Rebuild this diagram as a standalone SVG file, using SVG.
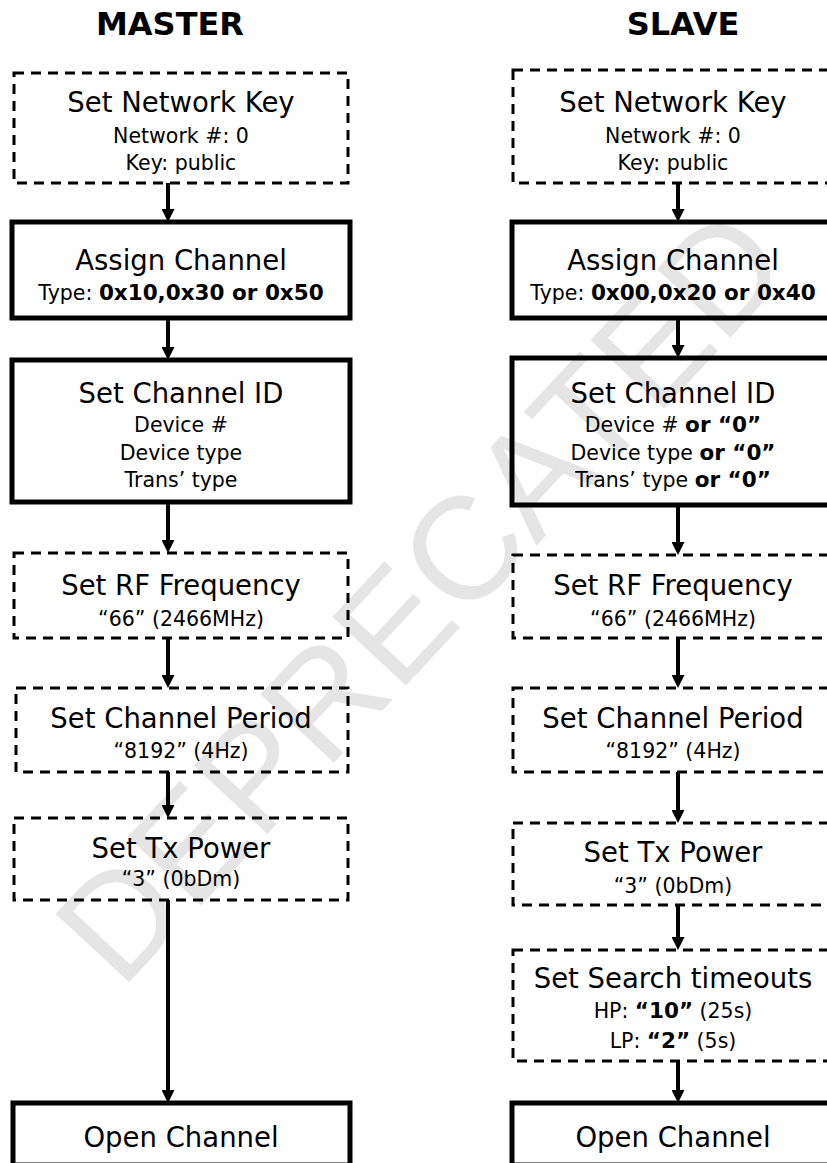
<svg xmlns="http://www.w3.org/2000/svg" width="827" height="1163" viewBox="0 0 827 1163">
<style>
.bg{fill:#ffffff}
.wm{font-family:"Liberation Sans","DejaVu Sans",sans-serif;font-size:146px;fill:#e5e5e5}
.hd{font-family:"DejaVu Sans",sans-serif;font-weight:bold;font-size:32px;fill:#000;text-anchor:middle}
.t{font-family:"DejaVu Sans",sans-serif;font-size:27.5px;fill:#000;text-anchor:middle}
.s{font-family:"DejaVu Sans",sans-serif;font-size:20.5px;fill:#000;text-anchor:middle}
.b{font-weight:bold;font-size:21.5px}
.dash{fill:none;stroke:#000;stroke-width:3;stroke-dasharray:10 7}
.solid{fill:none;stroke:#000;stroke-width:5}
.conn{fill:none;stroke:#000;stroke-width:4;marker-end:url(#ah)}
</style>
<defs>
<marker id="ah" viewBox="0 0 13 13" refX="0" refY="6.5" markerWidth="13" markerHeight="13" markerUnits="userSpaceOnUse" orient="auto">
<path d="M0,0 L13,6.5 L0,13 z" fill="#000"/>
</marker>
</defs>
<rect class="bg" x="0" y="0" width="827" height="1163"/>
<text class="wm" transform="translate(121,991) rotate(-47)">DEPRECATED</text>

<text class="hd" x="170" y="35">MASTER</text>
<text class="hd" x="683" y="35">SLAVE</text>

<g id="connectors">
<line class="conn" x1="168" y1="183" x2="168" y2="209"/>
<line class="conn" x1="168" y1="318" x2="168" y2="347"/>
<line class="conn" x1="168" y1="502" x2="168" y2="540"/>
<line class="conn" x1="168" y1="638" x2="168" y2="675"/>
<line class="conn" x1="168" y1="772" x2="168" y2="805"/>
<line class="conn" x1="168" y1="900" x2="168" y2="1090"/>
<line class="conn" x1="678" y1="183" x2="678" y2="209"/>
<line class="conn" x1="678" y1="318" x2="678" y2="345"/>
<line class="conn" x1="678" y1="505" x2="678" y2="542"/>
<line class="conn" x1="678" y1="638" x2="678" y2="675"/>
<line class="conn" x1="678" y1="772" x2="678" y2="810"/>
<line class="conn" x1="678" y1="905" x2="678" y2="937"/>
<line class="conn" x1="678" y1="1061" x2="678" y2="1090"/>
</g>

<g id="m_netkey">
<rect class="dash" x="14" y="73" width="334" height="110"/>
<text class="t" x="181" y="112">Set Network Key</text>
<text class="s" x="181" y="143">Network #: 0</text>
<text class="s" x="181" y="170">Key: public</text>
</g>
<g id="m_assign">
<rect class="solid" x="12" y="222" width="338" height="96"/>
<text class="t" x="181" y="270">Assign Channel</text>
<text class="s" x="181" y="300">Type: <tspan class="b">0x10,0x30 or 0x50</tspan></text>
</g>
<g id="m_chanid">
<rect class="solid" x="12" y="360" width="338" height="142"/>
<text class="t" x="181" y="403">Set Channel ID</text>
<text class="s" x="181" y="432">Device #</text>
<text class="s" x="181" y="460">Device type</text>
<text class="s" x="181" y="487">Trans’ type</text>
</g>
<g id="m_rf">
<rect class="dash" x="14" y="553" width="334" height="85"/>
<text class="t" x="181" y="595">Set RF Frequency</text>
<text class="s" x="181" y="626">“66” (2466MHz)</text>
</g>
<g id="m_period">
<rect class="dash" x="16" y="688" width="332" height="84"/>
<text class="t" x="181" y="728">Set Channel Period</text>
<text class="s" x="181" y="758">“8192” (4Hz)</text>
</g>
<g id="m_txpower">
<rect class="dash" x="14" y="818" width="334" height="82"/>
<text class="t" x="181" y="858">Set Tx Power</text>
<text class="s" x="181" y="886">“3” (0bDm)</text>
</g>
<g id="m_open">
<rect class="solid" x="13" y="1103" width="337" height="62"/>
<text class="t" x="181" y="1147">Open Channel</text>
</g>

<g id="s_netkey">
<rect class="dash" x="513" y="70" width="334" height="113"/>
<text class="t" x="673" y="112">Set Network Key</text>
<text class="s" x="673" y="143">Network #: 0</text>
<text class="s" x="673" y="170">Key: public</text>
</g>
<g id="s_assign">
<rect class="solid" x="512" y="222" width="338" height="96"/>
<text class="t" x="673" y="270">Assign Channel</text>
<text class="s" x="673" y="300">Type: <tspan class="b">0x00,0x20 or 0x40</tspan></text>
</g>
<g id="s_chanid">
<rect class="solid" x="512" y="358" width="338" height="147"/>
<text class="t" x="673" y="403">Set Channel ID</text>
<text class="s" x="673" y="432">Device # <tspan class="b">or “0”</tspan></text>
<text class="s" x="673" y="460">Device type <tspan class="b">or “0”</tspan></text>
<text class="s" x="673" y="487">Trans’ type <tspan class="b">or “0”</tspan></text>
</g>
<g id="s_rf">
<rect class="dash" x="513" y="555" width="334" height="83"/>
<text class="t" x="673" y="595">Set RF Frequency</text>
<text class="s" x="673" y="626">“66” (2466MHz)</text>
</g>
<g id="s_period">
<rect class="dash" x="513" y="688" width="334" height="84"/>
<text class="t" x="673" y="728">Set Channel Period</text>
<text class="s" x="673" y="758">“8192” (4Hz)</text>
</g>
<g id="s_txpower">
<rect class="dash" x="513" y="823" width="334" height="82"/>
<text class="t" x="673" y="862">Set Tx Power</text>
<text class="s" x="673" y="893">“3” (0bDm)</text>
</g>
<g id="s_search">
<rect class="dash" x="513" y="950" width="334" height="111"/>
<text class="t" x="673" y="988">Set Search timeouts</text>
<text class="s" x="673" y="1018">HP: <tspan class="b">“10”</tspan> (25s)</text>
<text class="s" x="673" y="1048">LP: <tspan class="b">“2”</tspan> (5s)</text>
</g>
<g id="s_open">
<rect class="solid" x="512" y="1103" width="338" height="62"/>
<text class="t" x="673" y="1147">Open Channel</text>
</g>
</svg>
